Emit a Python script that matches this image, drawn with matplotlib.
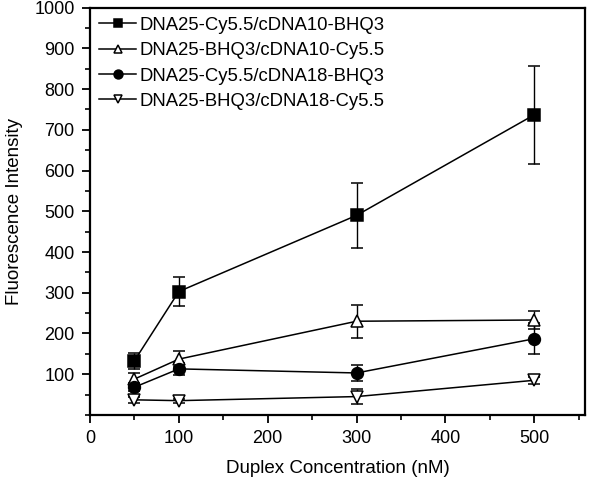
import matplotlib
matplotlib.use('Agg')
import matplotlib.pyplot as plt
from matplotlib.ticker import MultipleLocator

plt.rcParams['font.family'] = ['Liberation Sans', 'DejaVu Sans']

conc = [50, 100, 300, 500]
labels = ['DNA25-Cy5.5/cDNA10-BHQ3', 'DNA25-BHQ3/cDNA10-Cy5.5',
          'DNA25-Cy5.5/cDNA18-BHQ3', 'DNA25-BHQ3/cDNA18-Cy5.5']
sq_y = [133, 303, 490, 737]
sq_err = [20, 35, 80, 120]
tu_y = [88, 137, 230, 233]
tu_err = [14, 20, 40, 22]
ci_y = [68, 113, 103, 187]
ci_err = [10, 14, 20, 38]
td_y = [37, 35, 45, 85]
td_err = [8, 5, 18, 8]

fig = plt.figure(figsize=(6, 4.78), dpi=100)
ax = fig.add_axes([0.15, 0.132, 0.825, 0.852])

styles = [('s', 'black', sq_y, sq_err), ('^', 'white', tu_y, tu_err),
          ('o', 'black', ci_y, ci_err), ('v', 'white', td_y, td_err)]
handles = []
for (m, fc, y, e), lab in zip(styles, labels):
    c = ax.errorbar(conc, y, yerr=e, marker=m, markersize=8.5, markerfacecolor=fc,
                    markeredgecolor='black', markeredgewidth=1.1, color='black',
                    linewidth=1.1, capsize=4.5, elinewidth=1, capthick=1, label=lab)
    handles.append(c[0])

ax.set_xlim(0, 557)
ax.set_ylim(0, 1000)
ax.xaxis.set_major_locator(MultipleLocator(100))
ax.xaxis.set_minor_locator(MultipleLocator(50))
ax.yaxis.set_minor_locator(MultipleLocator(50))
ax.set_yticks(range(100, 1001, 100))
ax.tick_params(which='major', direction='out', length=6, width=1.3, labelsize=13, pad=5)
ax.tick_params(which='minor', direction='out', length=3.5, width=1.2)
for s in ax.spines.values():
    s.set_linewidth(1.6)
    s.set_zorder(5)
ax.spines['top'].set_visible(True)
ax.spines['right'].set_visible(True)

ax.set_xlabel('Duplex Concentration (nM)', fontsize=13.5, labelpad=9)
ax.set_ylabel('Fluorescence Intensity', fontsize=13.5, labelpad=8)
ax.legend(handles, labels, loc='upper left', frameon=False, fontsize=13.3,
          handlelength=2.0, markerscale=0.75, borderaxespad=0.1,
          labelspacing=0.45, handletextpad=0.2)

fig.savefig('out.png', dpi=100)
